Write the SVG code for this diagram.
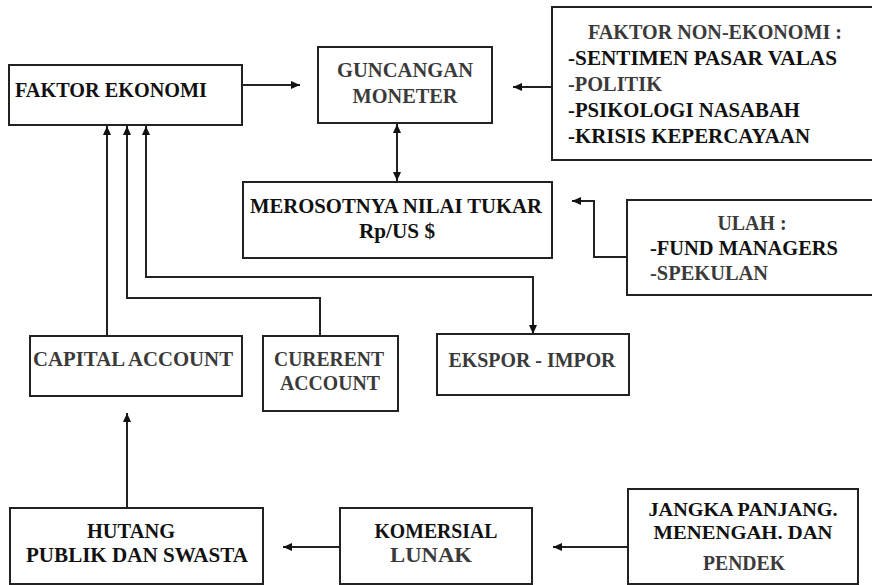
<svg xmlns="http://www.w3.org/2000/svg" width="872" height="585" viewBox="0 0 872 585">
<style>
.box{fill:#fff;stroke:#222;stroke-width:2}
text{font-family:"Liberation Serif","Times New Roman",serif;font-weight:bold;font-size:21px;fill:#111}
.soft{fill:#3a3a3a}
.c{text-anchor:middle}
.s20{font-size:20px}
.s18{font-size:18px}
.ln{fill:none;stroke:#222;stroke-width:2}
</style>
<defs>
<marker id="ah" markerUnits="userSpaceOnUse" markerWidth="10" markerHeight="9" refX="9" refY="4" orient="auto-start-reverse">
<path d="M0,0 L9,4 L0,8 z" fill="#111"/>
</marker>
</defs>
<rect width="872" height="585" fill="#fff"/>

<g id="connectors">
<path class="ln" d="M242,85 H300" marker-end="url(#ah)"/>
<path class="ln" d="M552,87 H513" marker-end="url(#ah)"/>
<path class="ln" d="M397,124 V181" marker-start="url(#ah)" marker-end="url(#ah)"/>
<path class="ln" d="M627,257 H594 V201 H572" marker-end="url(#ah)"/>
<path class="ln" d="M107,336 V126" marker-end="url(#ah)"/>
<path class="ln" d="M320,336 V298 H127 V126" marker-end="url(#ah)"/>
<path class="ln" d="M146,126 V277 H533 V334" marker-start="url(#ah)" marker-end="url(#ah)"/>
<path class="ln" d="M127,508 V413" marker-end="url(#ah)"/>
<path class="ln" d="M340,547 H283" marker-end="url(#ah)"/>
<path class="ln" d="M628,547 H553" marker-end="url(#ah)"/>
</g>

<g id="faktor-ekonomi">
<rect class="box" x="9" y="65" width="233" height="60"/>
<text x="15" y="97" textLength="192" lengthAdjust="spacingAndGlyphs">FAKTOR EKONOMI</text>
</g>

<g id="guncangan-moneter">
<rect class="box" x="318" y="47" width="174" height="76"/>
<text class="c soft" x="405" y="77" textLength="136" lengthAdjust="spacingAndGlyphs">GUNCANGAN</text>
<text class="c soft" x="405" y="103" textLength="105" lengthAdjust="spacingAndGlyphs">MONETER</text>
</g>

<g id="faktor-non-ekonomi">
<rect class="box" x="552" y="7" width="330" height="153"/>
<text class="soft s20" x="588" y="39" textLength="254" lengthAdjust="spacingAndGlyphs">FAKTOR NON-EKONOMI :</text>
<text class="s20" x="568" y="65" textLength="269" lengthAdjust="spacingAndGlyphs">-SENTIMEN PASAR VALAS</text>
<text class="soft s20" x="568" y="91" textLength="94" lengthAdjust="spacingAndGlyphs">-POLITIK</text>
<text class="s20" x="568" y="117" textLength="232" lengthAdjust="spacingAndGlyphs">-PSIKOLOGI NASABAH</text>
<text class="s20" x="568" y="143" textLength="242" lengthAdjust="spacingAndGlyphs">-KRISIS KEPERCAYAAN</text>
</g>

<g id="merosotnya-nilai-tukar">
<rect class="box" x="243" y="182" width="309" height="76"/>
<text x="250" y="213" textLength="292" lengthAdjust="spacingAndGlyphs">MEROSOTNYA NILAI TUKAR</text>
<text class="c" x="397" y="238" textLength="76" lengthAdjust="spacingAndGlyphs">Rp/US $</text>
</g>

<g id="ulah">
<rect class="box" x="627" y="200" width="260" height="95"/>
<text class="c soft" x="752" y="230" textLength="69" lengthAdjust="spacingAndGlyphs">ULAH :</text>
<text x="650" y="255" textLength="188" lengthAdjust="spacingAndGlyphs">-FUND MANAGERS</text>
<text class="soft" x="650" y="280" textLength="118" lengthAdjust="spacingAndGlyphs">-SPEKULAN</text>
</g>

<g id="capital-account">
<rect class="box" x="30" y="336" width="212" height="60"/>
<text class="soft" x="33" y="366" textLength="200" lengthAdjust="spacingAndGlyphs">CAPITAL ACCOUNT</text>
</g>

<g id="current-account">
<rect class="box" x="263" y="336" width="135" height="75"/>
<text class="c soft" x="329" y="366" textLength="110" lengthAdjust="spacingAndGlyphs">CURERENT</text>
<text class="c soft" x="330" y="390" textLength="100" lengthAdjust="spacingAndGlyphs">ACCOUNT</text>
</g>

<g id="ekspor-impor">
<rect class="box" x="437" y="334" width="192" height="61"/>
<text class="c soft" x="532" y="367" textLength="167" lengthAdjust="spacingAndGlyphs">EKSPOR - IMPOR</text>
</g>

<g id="hutang">
<rect class="box" x="10" y="508" width="253" height="76"/>
<text class="c" x="131" y="538" textLength="88" lengthAdjust="spacingAndGlyphs">HUTANG</text>
<text class="c" x="137" y="562" textLength="222" lengthAdjust="spacingAndGlyphs">PUBLIK DAN SWASTA</text>
</g>

<g id="komersial">
<rect class="box" x="340" y="508" width="192" height="76"/>
<text class="c" x="436" y="538" textLength="123" lengthAdjust="spacingAndGlyphs">KOMERSIAL</text>
<text class="c soft" x="431" y="562" textLength="82" lengthAdjust="spacingAndGlyphs">LUNAK</text>
</g>

<g id="jangka">
<rect class="box" x="628" y="489" width="230" height="95"/>
<text class="c s18" x="743" y="516" textLength="189" lengthAdjust="spacingAndGlyphs">JANGKA PANJANG.</text>
<text class="c s18" x="743" y="539" textLength="179" lengthAdjust="spacingAndGlyphs">MENENGAH. DAN</text>
<text class="c soft s20" x="744" y="570" textLength="82" lengthAdjust="spacingAndGlyphs">PENDEK</text>
</g>
</svg>
